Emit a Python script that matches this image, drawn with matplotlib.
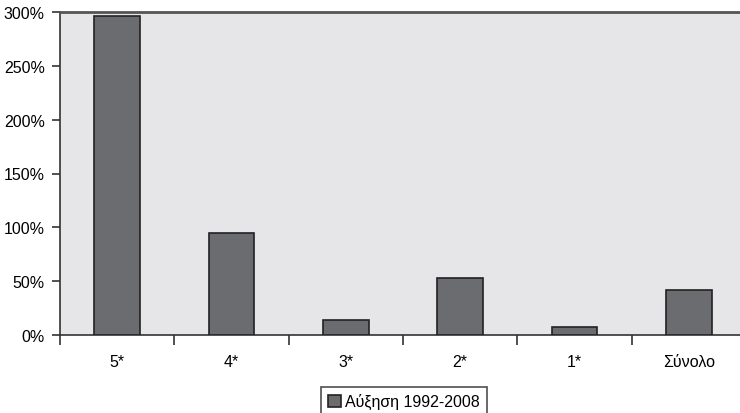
import matplotlib
matplotlib.use("Agg")
import matplotlib.pyplot as plt
from matplotlib.ticker import FuncFormatter, FixedLocator
import numpy as np

categories = ["5*", "4*", "3*", "2*", "1*", "Σύνολο"]
growth = [296, 95, 14, 53, 7, 42]
series_label = "Αύξηση 1992-2008"

plt.rcParams["font.family"] = ["Liberation Sans", "DejaVu Sans"]
plt.rcParams["font.size"] = 11.5

W, H = 740, 414
fig = plt.figure(figsize=(W / 100, H / 100), dpi=100)
left, right, top, bottom = 60, 746, 13, 336
ax = fig.add_axes([left / W, 1 - bottom / H, (right - left) / W, (bottom - top) / H])
ax.set_facecolor("#e6e6e8")

x = np.arange(len(categories))
ax.bar(x, growth, width=0.4, color="#6b6c70", edgecolor="#222222", linewidth=1.2,
       label=series_label, zorder=3)

ax.set_xlim(-0.5, len(categories) - 0.5)
ax.set_ylim(0, 300)
ax.set_yticks(np.arange(0, 301, 50))
ax.yaxis.set_major_formatter(FuncFormatter(lambda v, p: f"{int(v)}%"))

# category labels centered under bars, tick marks on the boundaries
ax.set_xticks(x)
ax.set_xticklabels(categories)
ax.tick_params(axis="x", which="major", length=0, pad=14)
ax.xaxis.set_minor_locator(FixedLocator(np.arange(-0.5, len(categories), 1.0)))
ax.tick_params(axis="x", which="minor", length=7, width=1.2, color="#333333", direction="out")
ax.tick_params(axis="y", length=6, width=1.2, color="#333333", direction="out", pad=5)

for side in ("left", "bottom"):
    ax.spines[side].set_color("#333333")
    ax.spines[side].set_linewidth(1.2)
ax.spines["top"].set_color("#555555")
ax.spines["top"].set_linewidth(2)
ax.spines["right"].set_visible(False)

leg = fig.legend(loc="upper center", bbox_to_anchor=(404 / W, 1 - 380 / H),
                 frameon=True, fancybox=False, edgecolor="#222222",
                 handlelength=0.8, handleheight=0.8, handletextpad=0.3,
                 borderpad=0.4, fontsize=11.5)
leg.get_frame().set_linewidth(1.2)

fig.savefig("out.png", dpi=100)
